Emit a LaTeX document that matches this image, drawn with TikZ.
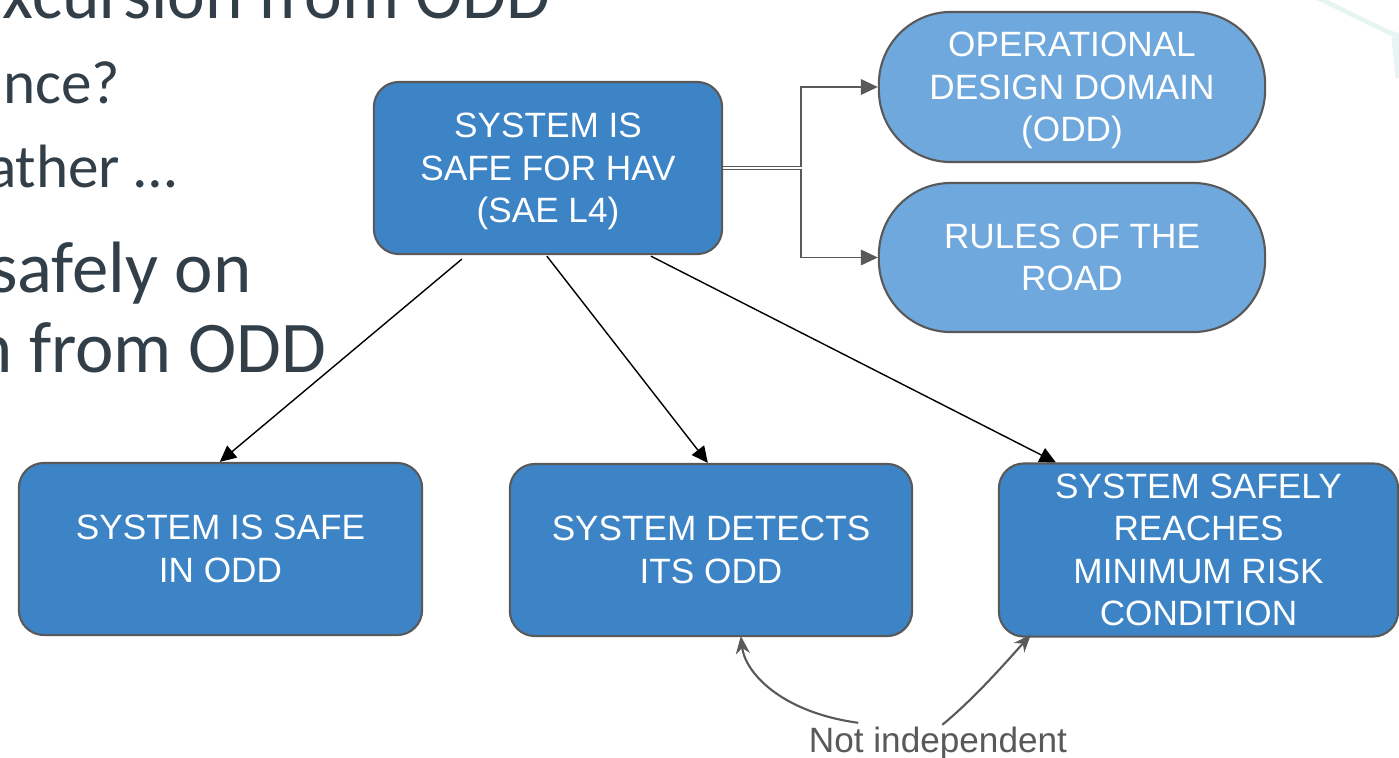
\documentclass[tikz,border=0pt]{standalone}
\usepackage{fontspec}
\setmainfont{Liberation Sans}
\newfontfamily\slidefont{Carlito}
\usetikzlibrary{arrows.meta,calc}

\definecolor{boxblue}{HTML}{3D84C6}
\definecolor{lightblue}{HTML}{6FA8DC}
\definecolor{edgegray}{HTML}{595959}
\definecolor{slidetext}{RGB}{50,62,72}
\definecolor{faintteal}{HTML}{E8F4F2}

\tikzset{
  goal/.style={draw=edgegray, line width=0.6pt, fill=boxblue, text=white,
    rounded corners=0.25cm, align=center, inner sep=0pt,
    font=\fontsize{10}{12.1}\selectfont},
  context/.style={goal, fill=lightblue, rounded corners=0.72cm},
  decomp/.style={draw=black, line width=0.4pt,
    -{Triangle[length=4.6pt,width=4.4pt]}},
  ctxlink/.style={draw=edgegray, line width=0.45pt,
    -{Triangle[length=4.8pt,width=4.4pt]}},
  notelink/.style={draw=edgegray, line width=0.6pt,
    -{Stealth[length=5pt,width=4pt,inset=1.6pt]}},
  bullet1/.style={text=slidetext, inner sep=0pt,
    font=\slidefont\fontsize{20.3}{24}\selectfont},
  bullet2/.style={text=slidetext, inner sep=0pt,
    font=\slidefont\fontsize{20.7}{24}\selectfont},
  bullet3/.style={text=slidetext, inner sep=0pt,
    font=\slidefont\fontsize{17.4}{21}\selectfont},
}

\begin{document}
\begin{tikzpicture}[x=0.01cm, y=-0.01cm]
\useasboundingbox (0,0) rectangle (1399,757);
\clip (0,0) rectangle (1399,757);
\fill[white] (0,0) rectangle (1399,757);

% faint decoration in the top right corner
\draw[faintteal, line width=1.3pt, line cap=round] (1316,-3) -- (1390,33) -- (1402,36);
\draw[faintteal, line width=2.6pt] (1396,36) -- (1400,78);

% slide text behind the diagram
\node[bullet1, anchor=base west] (t1) at (2,18) {xcursion from ODD};
\node[bullet3, anchor=base east] (t2) at (121,103) {nce?};
\node[bullet3, anchor=base east] (t3) at (177,187) {ather …};
\node[bullet2, anchor=base east] (t4) at (252,292) {safely on};
\node[bullet2, anchor=base east] (t5) at (327,372) {n from ODD};

% goal boxes
\node[goal, minimum width=3.48cm, minimum height=1.72cm] (top) at (548,168)
  {SYSTEM IS\\SAFE FOR HAV\\\smash{(SAE L4)}};
\node[context, minimum width=3.86cm, minimum height=1.50cm] (odd) at (1072,87)
  {OPERATIONAL\\DESIGN DOMAIN\\\smash{(ODD)}};
\node[context, minimum width=3.86cm, minimum height=1.49cm] (rules) at (1072,257.5)
  {RULES OF THE\\ROAD};
\node[goal, minimum width=4.03cm, minimum height=1.72cm] (safe) at (220.5,549)
  {SYSTEM IS SAFE\\IN ODD};
\node[goal, minimum width=4.02cm, minimum height=1.72cm] (det) at (711,550)
  {SYSTEM DETECTS\\ITS ODD};
\node[goal, minimum width=3.99cm, minimum height=1.73cm] (mrc) at (1198.5,550)
  {SYSTEM SAFELY\\REACHES\\MINIMUM RISK\\CONDITION};

% decomposition of the top goal
\draw[decomp] ($(top.south west)+(89,4)$) -- ($(safe.north west)+(202,0)$);
\draw[decomp] ($(top.south west)+(174,1)$) -- ($(det.north west)+(199,0)$);
\draw[decomp] ($(top.south west)+(278,1)$) -- ($(mrc.north west)+(58,0)$);

% context links
\draw[ctxlink] ($(top.east)+(0,-1.3)$) -- ++(78,0) |- (odd.west);
\draw[ctxlink] ($(top.east)+(0,1.3)$) -- ++(78,0) |- (rules.west);

% note on the two lower goals
\node[text=edgegray, inner sep=0pt, anchor=base, font=\fontsize{10}{12}\selectfont]
  (ni) at (938,752) {Not independent};
\coordinate (n1) at ($(ni.north west)+(50,-3)$);
\coordinate (n2) at ($(ni.north west)+(134,-1)$);
\draw[notelink] (n1) .. controls (780,712) and (745,672) .. ($(det.south west)+(232,-1)$);
\draw[notelink] (n2) .. controls (975,698) and (1008,660) .. ($(mrc.south west)+(33,-3)$);
\end{tikzpicture}
\end{document}
